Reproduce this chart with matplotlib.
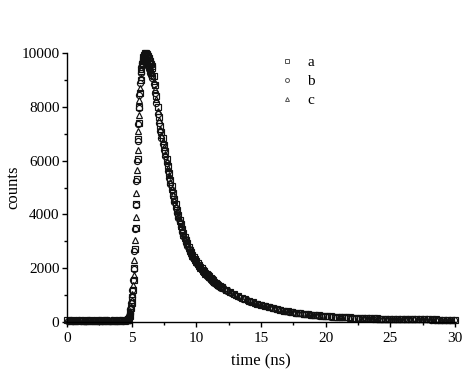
import numpy as np
import matplotlib
matplotlib.use("Agg")
import matplotlib.pyplot as plt
from matplotlib.ticker import MultipleLocator

plt.rcParams['font.family'] = ['Liberation Serif', 'DejaVu Serif']

# time grids (ns) of the three decays: coarse baseline, fine rise, medium decay, coarse tail
time_a = np.concatenate([np.linspace(0.0, 4.4, 23), np.linspace(4.6, 6.55, 40),
                         np.linspace(6.6, 11.9, 54), np.linspace(12.0, 30.0, 61)])
time_b = np.concatenate([np.linspace(0.1, 4.5, 23), np.linspace(4.6, 6.55, 40),
                         np.linspace(6.6, 11.9, 54), np.linspace(12.1, 29.9, 61)])
time_c = np.concatenate([np.linspace(0.05, 4.45, 23), np.linspace(4.6, 6.55, 40),
                         np.linspace(6.6, 11.9, 54), np.linspace(12.2, 29.8, 61)])

counts_a = [
    52, 48, 55, 50, 46, 53, 49, 51, 47, 54, 50, 48, 52, 49, 55, 51, 47, 50, 53, 48, 51, 49, 52,
    55, 62, 75, 105, 150, 230, 350, 500, 700, 930, 1200, 1560, 2000, 2700, 3500, 4400, 5300, 6050,
    6800, 7400, 8000, 8500, 9000, 9350, 9600, 9750, 9850, 9930, 9980, 10000, 9990, 9960, 9930, 9880,
    9820, 9760, 9700, 9650, 9600, 9530,
    9450, 9150, 8800, 8420, 7980, 7620, 7300, 7060, 6830, 6600,
    6350, 6080, 5800, 5530, 5280, 5040, 4810, 4590, 4380, 4180,
    3990, 3810, 3630, 3460, 3300, 3170, 3040, 2920, 2800, 2690,
    2590, 2500, 2410, 2330, 2250, 2180, 2110, 2050, 1990, 1930,
    1880, 1830, 1790, 1740, 1690, 1640, 1590, 1550, 1500, 1460,
    1420, 1380, 1345, 1310,
    1280, 1191, 1109, 1032, 961, 895, 834, 778, 725, 676,
    631, 589, 550, 514, 480, 449, 420, 394, 369, 346,
    324, 305, 286, 270, 255, 241, 228, 216, 205, 195,
    186, 178, 170, 163, 156, 150, 144, 139, 134, 130,
    126, 122, 118, 115, 112, 109, 106, 104, 101, 99,
    97, 95, 93, 91, 90, 88, 87, 86, 85, 84, 83,
]

counts_b = [
    49, 53, 47, 51, 55, 48, 50, 46, 52, 49, 54, 47, 51, 50, 48, 53, 49, 52, 46, 50, 54, 48, 51,
    58, 70, 95, 140, 220, 340, 490, 690, 920, 1190, 1540, 1980, 2650, 3450, 4350, 5250, 6000,
    6750, 7350, 7950, 8450, 8900, 9250, 9480, 9620, 9700, 9740, 9750, 9730, 9700, 9660, 9620, 9570,
    9520, 9470, 9410, 9340, 9260, 9180, 9080,
    9150, 8850, 8520, 8160, 7750, 7400, 7090, 6850, 6630, 6410,
    6170, 5900, 5630, 5370, 5130, 4890, 4670, 4460, 4250, 4060,
    3870, 3700, 3520, 3360, 3200, 3080, 2950, 2830, 2720, 2610,
    2510, 2430, 2340, 2260, 2180, 2110, 2050, 1990, 1930, 1870,
    1820, 1780, 1740, 1690, 1640, 1590, 1540, 1500, 1460, 1420,
    1380, 1340, 1300, 1270,
    1240, 1156, 1076, 1002, 933, 869, 810, 756, 705, 657,
    614, 573, 535, 500, 468, 437, 409, 384, 360, 337,
    316, 298, 280, 264, 249, 235, 222, 210, 199, 189,
    180, 172, 164, 157, 151, 145, 139, 134, 129, 125,
    121, 117, 114, 111, 108, 105, 102, 100, 98, 96,
    94, 92, 90, 88, 87, 85, 84, 83, 82, 81, 80,
]

counts_c = [
    51, 47, 53, 49, 52, 55, 47, 50, 48, 53, 51, 46, 54, 49, 50, 52, 48, 55, 47, 51, 49, 53, 50,
    57, 66, 85, 122, 180, 280, 420, 590, 800, 1050, 1360, 1760, 2300, 3050, 3900, 4800, 5650,
    6400, 7100, 7700, 8250, 8700, 9100, 9400, 9620, 9760, 9840, 9880, 9880, 9860, 9830, 9790, 9740,
    9690, 9630, 9570, 9510, 9450, 9380, 9300,
    9250, 8980, 8650, 8290, 7860, 7510, 7190, 6950, 6730, 6500,
    6260, 5990, 5720, 5450, 5200, 4960, 4740, 4530, 4320, 4120,
    3930, 3750, 3580, 3410, 3250, 3120, 3000, 2880, 2760, 2650,
    2550, 2460, 2380, 2300, 2220, 2150, 2080, 2020, 1960, 1900,
    1850, 1800, 1760, 1710, 1660, 1610, 1560, 1520, 1480, 1440,
    1400, 1360, 1320, 1290,
    1262, 1175, 1094, 1018, 948, 883, 823, 768, 716, 668,
    623, 582, 543, 508, 475, 444, 416, 390, 365, 343,
    321, 302, 284, 268, 253, 239, 226, 214, 203, 193,
    184, 176, 168, 161, 154, 148, 142, 137, 132, 128,
    124, 120, 116, 113, 110, 107, 104, 102, 100, 98,
    96, 94, 92, 90, 89, 87, 86, 85, 84, 83, 82,
]

series_labels = ['a', 'b', 'c']
series_markers = ['s', 'o', '^']
x_ticks = [0, 5, 10, 15, 20, 25, 30]
y_ticks = [0, 2000, 4000, 6000, 8000, 10000]

fig = plt.figure(figsize=(4.72, 3.80), dpi=100)
ax = fig.add_axes([0.142, 0.153, 0.822, 0.707])

for t, vals, lab, mk in zip([time_a, time_b, time_c], [counts_a, counts_b, counts_c],
                            series_labels, series_markers):
    ax.plot(t, vals, linestyle='none', marker=mk, markersize=4.4,
            mfc='none', mec='#111111', mew=0.85, label=lab, clip_on=False)

ax.set_xlim(0, 30)
ax.set_ylim(0, 10000)
ax.set_xticks(x_ticks)
ax.set_yticks(y_ticks)
ax.xaxis.set_minor_locator(MultipleLocator(2.5))
ax.yaxis.set_minor_locator(MultipleLocator(1000))
ax.tick_params(which='major', direction='out', length=3.5, width=1, labelsize=11)
ax.tick_params(axis='y', which='major', pad=2)
ax.tick_params(which='minor', direction='out', length=2.2, width=1)
for s in ['top', 'right']:
    ax.spines[s].set_visible(False)
for s in ['left', 'bottom']:
    ax.spines[s].set_linewidth(1)

ax.set_xlabel('time (ns)', fontsize=12, labelpad=6)
ax.set_ylabel('counts', fontsize=12)
ax.yaxis.set_label_coords(-0.118, 0.5)

leg = ax.legend(loc='upper left', bbox_to_anchor=(0.513, 1.042), frameon=False,
                fontsize=11, markerscale=0.65, handlelength=1.0, handletextpad=0.8,
                labelspacing=0.35)
for h in leg.legend_handles:
    h.set_markeredgecolor('#555555')
    h.set_markeredgewidth(0.7)

fig.savefig('out.png', dpi=100)
